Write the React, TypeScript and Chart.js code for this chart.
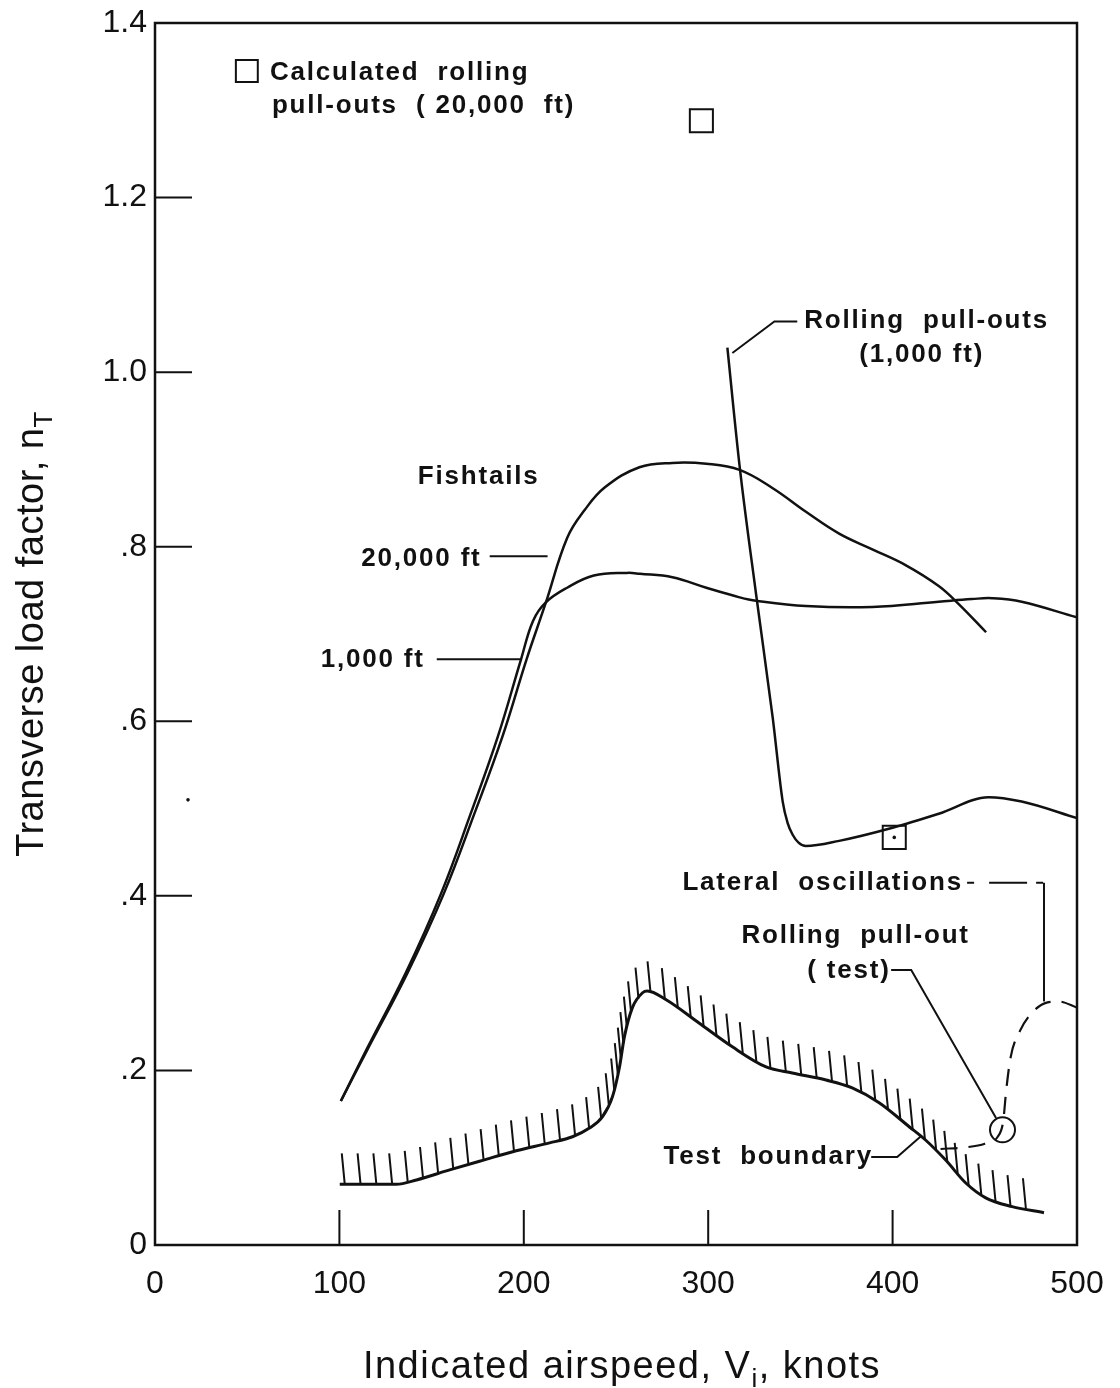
import React, { useEffect, useRef } from "react";
import { Chart, registerables } from "chart.js";

Chart.register(...registerables);

// ---------------- data ----------------
const xTickLabels = ["0", "100", "200", "300", "400", "500"];
const yTickLabels = ["0", ".2", ".4", ".6", ".8", "1.0", "1.2", "1.4"];
const xTickMarks = [100, 200, 300, 400];
const yTickMarks = [0.2, 0.4, 0.6, 0.8, 1.0, 1.2];

// Fishtails, 20,000 ft
const fishtails20kSpeed = [100.8, 114.5, 137, 156.5, 173, 188.5, 201.5, 211.8, 223.5, 233, 244, 262.7, 280.6, 299, 317, 335, 353, 371, 389, 407, 425, 436, 450.7];
const fishtails20kLoad = [0.165, 0.221, 0.312, 0.402, 0.493, 0.583, 0.671, 0.735, 0.81, 0.842, 0.868, 0.891, 0.896, 0.895, 0.888, 0.867, 0.84, 0.815, 0.797, 0.779, 0.755, 0.734, 0.702];

// Fishtails, 1,000 ft
const fishtails1kSpeed = [100.8, 114, 136, 155, 171, 186, 198.5, 205, 211.8, 223.5, 238, 256, 263, 280.6, 299, 317, 326, 353, 389, 425, 443, 454, 470, 500];
const fishtails1kLoad = [0.165, 0.221, 0.312, 0.402, 0.493, 0.583, 0.671, 0.715, 0.736, 0.753, 0.767, 0.77, 0.769, 0.765, 0.753, 0.742, 0.738, 0.732, 0.731, 0.737, 0.74, 0.741, 0.737, 0.719];

// Rolling pull-outs, 1,000 ft
const rollingPulloutSpeed = [310.4, 317, 326, 335, 340.4, 343, 345.8, 349, 353, 371, 400, 425, 452, 470, 500];
const rollingPulloutLoad = [1.028, 0.893, 0.745, 0.604, 0.508, 0.484, 0.47, 0.461, 0.457, 0.463, 0.478, 0.494, 0.513, 0.508, 0.489];

// Test boundary
const testBoundarySpeed = [100.2, 130.9, 141.8, 159.8, 177.7, 195.9, 214, 226.4, 235.6, 242.7, 248.1, 251.9, 254.6, 258.9, 264.4, 267, 277.2, 295.2, 313.1, 331.4, 345.6, 363.9, 378.1, 392.7, 409, 418, 428.9, 439.7, 450.5, 464.8, 482.1];
const testBoundaryLoad = [0.0695, 0.0695, 0.0745, 0.086, 0.097, 0.108, 0.117, 0.124, 0.134, 0.147, 0.17, 0.204, 0.239, 0.272, 0.289, 0.291, 0.281, 0.254, 0.227, 0.204, 0.197, 0.189, 0.18, 0.163, 0.1355, 0.12, 0.097, 0.071, 0.054, 0.044, 0.037];

// Lateral oscillations (dashed)
const lateralOscSpeed = [426, 440, 450, 457, 460, 461.5, 464, 469, 476, 484, 490, 500];
const lateralOscLoad = [0.11, 0.112, 0.116, 0.124, 0.142, 0.175, 0.215, 0.245, 0.267, 0.278, 0.279, 0.272];

// Calculated rolling pull-outs (squares)
const calcPulloutSpeed = [296.3, 400.9];
const calcPulloutLoad = [1.288, 0.467];

// Legend key square
const legendKeySpeed = [49.8];
const legendKeyLoad = [1.345];

// Rolling pull-out (test) circle
const testPulloutSpeed = [459.6];
const testPulloutLoad = [0.132];

// small dots (inside square, stray speck)
const dotSpeed = [400.9, 17.9];
const dotLoad = [0.467, 0.51];

// annotation texts
const annotationTexts = [
  "Calculated  rolling",
  "pull-outs  ( 20,000  ft)",
  "Rolling  pull-outs",
  "(1,000 ft)",
  "Fishtails",
  "20,000 ft",
  "1,000 ft",
  "Lateral  oscillations",
  "Rolling  pull-out",
  "( test)",
  "Test  boundary",
];

// ---------------- layout / style config ----------------
const FONT = '"Liberation Sans", Arial, sans-serif';
const annotationPlacement = [
  { x: 62.3, y: 1.3426, align: "left" },
  { x: 63.4, y: 1.3048, align: "left" },
  { x: 352.1, y: 1.0585, align: "left" },
  { x: 381.9, y: 1.0196, align: "left" },
  { x: 142.5, y: 0.8798, align: "left" },
  { x: 177.1, y: 0.7859, align: "right" },
  { x: 146.3, y: 0.6702, align: "right" },
  { x: 286.0, y: 0.4147, align: "left" },
  { x: 318.0, y: 0.354, align: "left" },
  { x: 353.7, y: 0.3139, align: "left" },
  { x: 275.7, y: 0.1008, align: "left" },
];

const leaders = [
  { pts: [[313.1, 1.022], [335.9, 1.058], [348.3, 1.058]], dash: [] },
  { pts: [[181.5, 0.789], [212.9, 0.789]], dash: [] },
  { pts: [[152.8, 0.671], [198.3, 0.671]], dash: [] },
  { pts: [[399.2, 0.315], [410.1, 0.315], [456.1, 0.1455]], dash: [] },
  { pts: [[388.4, 0.1008], [402.5, 0.1008], [415.5, 0.125]], dash: [] },
  { pts: [[482.1, 0.415], [482.1, 0.279]], dash: [] },
  { pts: [[440.4, 0.415], [482.1, 0.415]], dash: [7, 15, 38, 9] },
];

const pts = (xs: number[], ys: number[]) => xs.map((x, i) => ({ x, y: ys[i] }));

const lineStyle = {
  showLine: true,
  borderColor: "#111",
  borderWidth: 2.5,
  pointRadius: 0,
  fill: false,
  cubicInterpolationMode: "monotone",
};

const smoothStyle = {
  ...lineStyle,
  cubicInterpolationMode: "default",
  tension: 0.4,
};

function drawRich(ctx: any, parts: { t: string; sub?: boolean }[], cx: number, baseY: number, font: string, subFont: string, spacing: string) {
  ctx.letterSpacing = spacing;
  const widths = parts.map((p) => {
    ctx.font = p.sub ? subFont : font;
    return ctx.measureText(p.t).width;
  });
  const total = widths.reduce((a, b) => a + b, 0);
  let x = cx - total / 2;
  ctx.textAlign = "left";
  ctx.textBaseline = "alphabetic";
  parts.forEach((p, i) => {
    ctx.font = p.sub ? subFont : font;
    ctx.fillText(p.t, x, baseY + (p.sub ? 9 : 0));
    x += widths[i];
  });
}

const decorPlugin = {
  id: "decor",
  afterDatasetsDraw(chart: any) {
    const { ctx, chartArea: a, scales } = chart;
    const xs = scales.x;
    const ys = scales.y;
    const px = (v: number) => xs.getPixelForValue(v);
    const py = (v: number) => ys.getPixelForValue(v);
    ctx.save();
    ctx.strokeStyle = "#111";
    ctx.fillStyle = "#111";
    ctx.lineCap = "butt";

    // frame
    ctx.lineWidth = 2.5;
    ctx.strokeRect(a.left, a.top, a.right - a.left, a.bottom - a.top);

    // inside tick marks
    ctx.lineWidth = 2;
    ctx.beginPath();
    yTickMarks.forEach((v) => {
      ctx.moveTo(a.left, py(v));
      ctx.lineTo(a.left + 37, py(v));
    });
    xTickMarks.forEach((v) => {
      ctx.moveTo(px(v), a.bottom);
      ctx.lineTo(px(v), a.bottom - 35);
    });
    ctx.stroke();

    // hatching above test boundary
    const bp = testBoundarySpeed.map((v, i) => [px(v), py(testBoundaryLoad[i])]);
    const cum = [0];
    for (let i = 1; i < bp.length; i++) {
      cum.push(cum[i - 1] + Math.hypot(bp[i][0] - bp[i - 1][0], bp[i][1] - bp[i - 1][1]));
    }
    const total = cum[cum.length - 1];
    ctx.lineWidth = 2;
    ctx.beginPath();
    let seg = 0;
    for (let s = 5; s < total - 10; s += 15.8) {
      while (seg < cum.length - 2 && cum[seg + 1] < s) seg++;
      const t = (s - cum[seg]) / (cum[seg + 1] - cum[seg]);
      const bx = bp[seg][0] + t * (bp[seg + 1][0] - bp[seg][0]);
      const by = bp[seg][1] + t * (bp[seg + 1][1] - bp[seg][1]);
      ctx.moveTo(bx, by);
      ctx.lineTo(bx - 3, by - 31);
    }
    ctx.stroke();

    // leader lines
    ctx.lineWidth = 2;
    leaders.forEach((l) => {
      ctx.setLineDash(l.dash);
      ctx.beginPath();
      l.pts.forEach((p, i) => {
        if (i === 0) ctx.moveTo(px(p[0]), py(p[1]));
        else ctx.lineTo(px(p[0]), py(p[1]));
      });
      ctx.stroke();
    });
    ctx.setLineDash([]);

    // annotation texts
    ctx.font = `bold 26px ${FONT}`;
    ctx.letterSpacing = "1.8px";
    ctx.textBaseline = "middle";
    annotationTexts.forEach((t, i) => {
      const p = annotationPlacement[i];
      ctx.textAlign = p.align;
      ctx.fillText(t, px(p.x), py(p.y));
    });

    // axis titles
    drawRich(
      ctx,
      [{ t: "Indicated airspeed, V" }, { t: "i", sub: true }, { t: ", knots" }],
      622,
      1378,
      `38px ${FONT}`,
      `26px ${FONT}`,
      "1.5px"
    );
    ctx.save();
    ctx.translate(43, 634);
    ctx.rotate(-Math.PI / 2);
    drawRich(
      ctx,
      [{ t: "Transverse load factor, n" }, { t: "T", sub: true }],
      0,
      0,
      `38px ${FONT}`,
      `26px ${FONT}`,
      "0.5px"
    );
    ctx.restore();

    ctx.restore();
  },
};

export default function App() {
  const ref = useRef<HTMLCanvasElement>(null);
  useEffect(() => {
    document.body.style.margin = "0";
    const canvas = ref.current as HTMLCanvasElement;
    const chart = new Chart(canvas, {
      type: "scatter",
      data: {
        datasets: [
          { ...smoothStyle, label: "Fishtails 20,000 ft", data: pts(fishtails20kSpeed, fishtails20kLoad) },
          { ...smoothStyle, label: "Fishtails 1,000 ft", data: pts(fishtails1kSpeed, fishtails1kLoad) },
          { ...lineStyle, label: "Rolling pull-outs (1,000 ft)", data: pts(rollingPulloutSpeed, rollingPulloutLoad) },
          { ...lineStyle, borderWidth: 3, label: "Test boundary", data: pts(testBoundarySpeed, testBoundaryLoad) },
          { ...lineStyle, borderWidth: 2.2, borderDash: [17, 11], label: "Lateral oscillations", data: pts(lateralOscSpeed, lateralOscLoad) },
          {
            label: "Calculated rolling pull-outs (20,000 ft)",
            data: pts(calcPulloutSpeed, calcPulloutLoad),
            showLine: false,
            pointStyle: "rect",
            pointRadius: 16.3,
            pointBorderWidth: 2,
            pointBorderColor: "#111",
            pointBackgroundColor: "#fff",
          },
          {
            label: "key",
            data: pts(legendKeySpeed, legendKeyLoad),
            showLine: false,
            pointStyle: "rect",
            pointRadius: 15.5,
            pointBorderWidth: 2,
            pointBorderColor: "#111",
            pointBackgroundColor: "#fff",
          },
          {
            label: "Rolling pull-out (test)",
            data: pts(testPulloutSpeed, testPulloutLoad),
            showLine: false,
            pointStyle: "circle",
            pointRadius: 12.5,
            pointBorderWidth: 2,
            pointBorderColor: "#111",
            pointBackgroundColor: "rgba(255,255,255,0)",
          },
          {
            label: "dots",
            order: -1,
            data: pts(dotSpeed, dotLoad),
            showLine: false,
            pointStyle: "circle",
            pointRadius: 1.8,
            pointBorderWidth: 0,
            pointBackgroundColor: "#111",
          },
        ],
      },
      options: {
        animation: false,
        responsive: false,
        devicePixelRatio: 1,
        layout: { padding: { top: 23, right: 43, left: 0, bottom: 0 } },
        plugins: { legend: { display: false }, tooltip: { enabled: false } },
        scales: {
          x: {
            type: "linear",
            min: 0,
            max: 500,
            grid: { display: false },
            border: { display: false },
            ticks: {
              stepSize: 100,
              color: "#111",
              padding: 12,
              maxRotation: 0,
              font: { family: FONT, size: 32 },
              callback: (_v: any, i: number) => xTickLabels[i],
            },
            afterFit: (s: any) => {
              s.height = 143;
            },
          },
          y: {
            min: 0,
            max: 1.4,
            grid: { display: false },
            border: { display: false },
            ticks: {
              stepSize: 0.2,
              color: "#111",
              padding: 0,
              font: { family: FONT, size: 32 },
              callback: (_v: any, i: number) => yTickLabels[i],
            },
            afterFit: (s: any) => {
              s.width = 155;
            },
          },
        },
      } as any,
      plugins: [decorPlugin],
    } as any);
    return () => chart.destroy();
  }, []);
  return (
    <div style={{ width: 1120, height: 1388, background: "#fff" }}>
      <canvas ref={ref} width={1120} height={1388} style={{ display: "block", width: 1120, height: 1388 }} />
    </div>
  );
}
